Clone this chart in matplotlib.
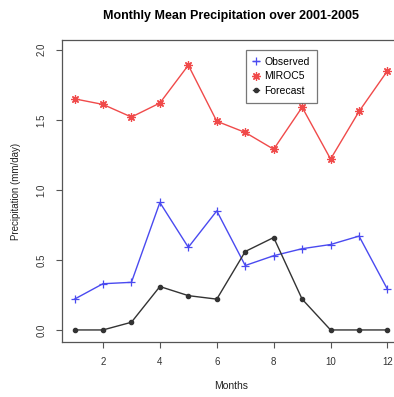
import matplotlib
matplotlib.use('Agg')
import matplotlib.pyplot as plt
import numpy as np

# data
months = [1, 2, 3, 4, 5, 6, 7, 8, 9, 10, 11, 12]
observed = [0.22, 0.33, 0.34, 0.91, 0.59, 0.85, 0.46, 0.53, 0.58, 0.61, 0.67, 0.29]
miroc5 = [1.65, 1.61, 1.52, 1.62, 1.89, 1.49, 1.41, 1.29, 1.59, 1.22, 1.56, 1.85]
forecast = [0.0, 0.0, 0.055, 0.31, 0.245, 0.22, 0.56, 0.66, 0.22, 0.0, 0.0, 0.0]
x_ticks = [2, 4, 6, 8, 10, 12]
y_ticks = [0.0, 0.5, 1.0, 1.5, 2.0]

plt.rcParams['font.family'] = ['Liberation Sans', 'DejaVu Sans']

fig = plt.figure(figsize=(3.94, 3.97), dpi=100)
ax = fig.add_axes([62 / 394, 55 / 397, 338 / 394, 302 / 397])

blue = '#4a4af0'
red = '#f04a4a'
ax.plot(months, observed, color=blue, lw=1.0, marker='+', ms=6, mew=0.9, label='Observed')
ax.plot(months, miroc5, color=red, lw=1.0, marker=(8, 2, 0), ms=6, mew=0.9, label='MIROC5')
ax.plot(months, forecast, color='#333333', lw=1.0, marker='o', ms=3, label='Forecast')

ax.set_xlim(0.56, 12.44)
ax.set_ylim(-0.086, 2.07)
ax.set_xticks(x_ticks)
ax.set_yticks(y_ticks)
ax.set_xticklabels([str(t) for t in x_ticks], fontsize=7, color='#333333')
ax.set_yticklabels(['%.1f' % t for t in y_ticks], fontsize=7, rotation=90, va='center', color='#333333')
ax.tick_params(length=4, color='#555555', width=0.8, pad=7)
for s in ax.spines.values():
    s.set_color('#555555')
    s.set_linewidth(0.9)
ax.spines['right'].set_visible(False)

ax.set_xlabel('Months', fontsize=7.5, labelpad=10, color='#222222')
ax.set_ylabel('Precipitation (mm/day)', fontsize=7, labelpad=11, color='#222222')
ax.set_title('Monthly Mean Precipitation over 2001-2005', fontsize=9, fontweight='bold', pad=15)

leg = ax.legend(loc='upper left', bbox_to_anchor=(0.545, 0.967), fontsize=7.5, frameon=True,
                fancybox=False, edgecolor='#555555', handlelength=0.6, handletextpad=0.5,
                borderpad=0.65, labelspacing=0.45, borderaxespad=0)
leg.get_frame().set_linewidth(0.9)

fig.savefig('out.png', dpi=100)
